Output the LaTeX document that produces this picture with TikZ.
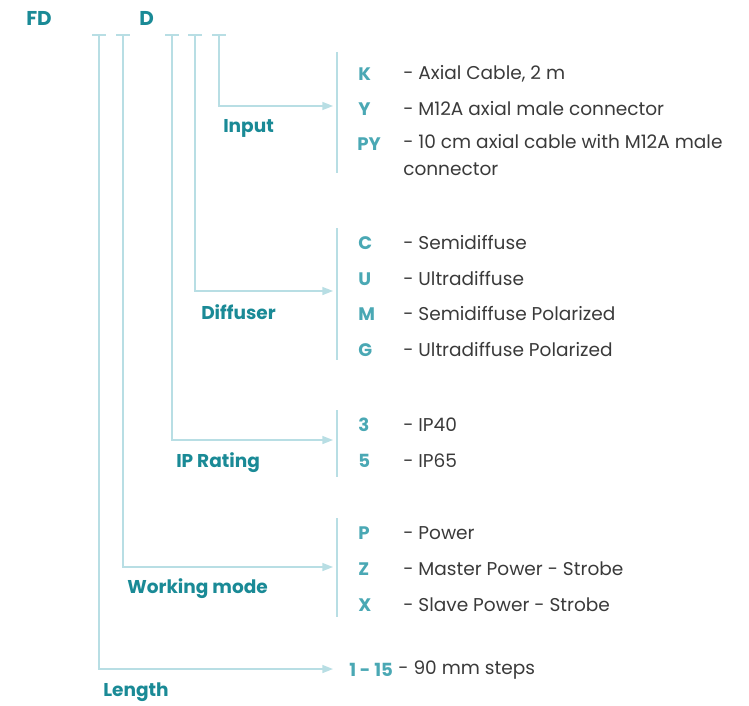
\documentclass[tikz,border=0pt]{standalone}
\usepackage{fontspec}
\setmainfont{Poppins}
\usetikzlibrary{arrows.meta}
\definecolor{lab}{HTML}{1A8A96}
\definecolor{code}{HTML}{4AA8B4}
\definecolor{ln}{HTML}{B8DEE4}
\definecolor{txt}{HTML}{3A3A3A}
\tikzset{
  px/.style={x=0.75pt,y=-0.75pt},
  grp/.style={font=\bfseries\fontsize{13.9}{16}\selectfont, text=lab, anchor=west, inner sep=0pt},
  hdr/.style={grp, font=\bfseries\fontsize{15}{17}\selectfont},
  cd/.style={font=\bfseries\fontsize{13.6}{16}\selectfont, text=code, anchor=west, inner sep=0pt},
  desc/.style={font=\fontsize{13.9}{20}\selectfont, text=txt, anchor=west, inner sep=0pt, align=left},
  wire/.style={draw=ln, line width=1.1pt},
  arr/.style={wire, -{Triangle[length=8pt,width=6pt]}},
}
\begin{document}
\begin{tikzpicture}[px]
\useasboundingbox (0,0) rectangle (749,706);
% header
\node[hdr] (fd) at (26,18) {FD};
\node[hdr] (d) at (139,18) {D};
% ticks
\foreach \n/\x in {t1/99,t2/123,t3/172,t4/195,t5/219}{
  \coordinate (\n) at (\x,35);
  \draw[wire] (\x-7,35) -- (\x+7,35);
}
% arrow ends
\coordinate (a5) at (333,106);
\coordinate (a4) at (333,291);
\coordinate (a3) at (333,440);
\coordinate (a2) at (333,567);
\coordinate (a1) at (333,669);
\draw[arr] (t5) |- (a5);
\draw[arr] (t4) |- (a4);
\draw[arr] (t3) |- (a3);
\draw[arr] (t2) |- (a2);
\draw[arr] (t1) |- (a1);
% brackets
\draw[wire] (337,52) coordinate (b5s) -- (337,173) coordinate (b5e);
\draw[wire] (337,228) coordinate (b4s) -- (337,360) coordinate (b4e);
\draw[wire] (337,410) coordinate (b3s) -- (337,477) coordinate (b3e);
\draw[wire] (337,518) coordinate (b2s) -- (337,617) coordinate (b2e);
% group labels
\node[grp] (linput) at (223,128) {Input};
\node[grp] (ldiff) at (201,312) {Diffuser};
\node[grp] (lip) at (176,463) {IP Rating};
\node[grp] (lwm) at (127,589) {Working mode};
\node[grp] (llen) at (103,692) {Length};
% Input
\node[cd] (ck) at (358,74) {K};
\node[desc] (dk) at (403,74) {- Axial Cable, 2 m};
\node[cd] (cy) at (358,109) {Y};
\node[desc] (dy) at (403,109) {- M12A axial male connector};
\node[cd] (cpy) at (357,144) {PY};
\node[desc, anchor=north west] (dpy) at (403,134) {- 10 cm axial cable with M12A male\\connector};
% Diffuser
\node[cd] (cc) at (358,243) {C};
\node[desc] (dc) at (403,243) {- Semidiffuse};
\node[cd] (cu) at (358,279) {U};
\node[desc] (du) at (403,279) {- Ultradiffuse};
\node[cd] (cm) at (358,314) {M};
\node[desc] (dm) at (403,314) {- Semidiffuse Polarized};
\node[cd] (cg) at (358,350) {G};
\node[desc] (dg) at (403,350) {- Ultradiffuse Polarized};
% IP
\node[cd] (c3) at (358,425) {3};
\node[desc] (d3) at (403,425) {- IP40};
\node[cd] (c5) at (358,461) {5};
\node[desc] (d5) at (403,461) {- IP65};
% Working mode
\node[cd] (cp) at (358,533) {P};
\node[desc] (dp) at (403,533) {- Power};
\node[cd] (cz) at (358,569) {Z};
\node[desc] (dz) at (403,569) {- Master Power - Strobe};
\node[cd] (cx) at (358,605) {X};
\node[desc] (dx) at (403,605) {- Slave Power - Strobe};
% Length
\node[cd] (c115) at (349,670) {1 - 15};
\node[desc] (d115) at (c115.east) {\ - 90 mm steps};
\end{tikzpicture}
\end{document}
